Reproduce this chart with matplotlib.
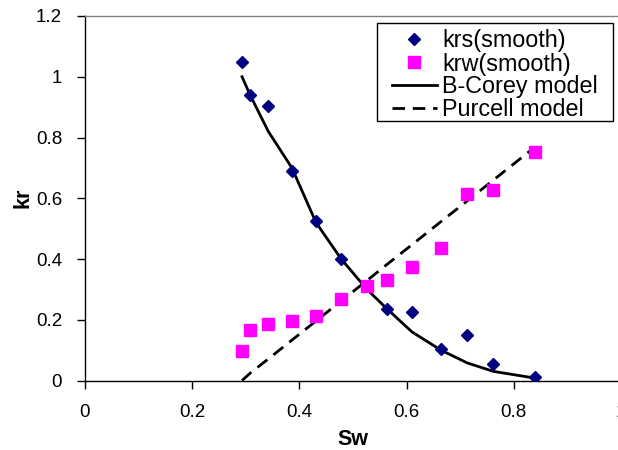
import matplotlib
matplotlib.use("Agg")
import matplotlib.pyplot as plt
from matplotlib.lines import Line2D
from matplotlib.patches import Rectangle

plt.rcParams['font.family'] = ['Liberation Sans', 'DejaVu Sans']

# Measured data
sw_krs = [0.293, 0.308, 0.342, 0.386, 0.431, 0.478, 0.564, 0.610, 0.664, 0.713, 0.762, 0.839]
krs = [1.05, 0.94, 0.905, 0.69, 0.525, 0.40, 0.235, 0.225, 0.105, 0.15, 0.055, 0.01]

sw_krw = [0.293, 0.308, 0.342, 0.386, 0.431, 0.478, 0.526, 0.564, 0.610, 0.664, 0.713, 0.762, 0.839]
krw = [0.097, 0.167, 0.187, 0.195, 0.211, 0.268, 0.31, 0.33, 0.375, 0.435, 0.615, 0.627, 0.751]

sw_model = [0.293, 0.308, 0.342, 0.386, 0.431, 0.478, 0.526, 0.564, 0.610, 0.664, 0.713, 0.762, 0.839]
corey = [1.0, 0.94, 0.82, 0.70, 0.52, 0.40, 0.30, 0.235, 0.16, 0.10, 0.058, 0.03, 0.008]
purcell = [0.0, 0.024, 0.071, 0.133, 0.196, 0.262, 0.329, 0.383, 0.447, 0.523, 0.591, 0.66, 0.768]

x_ticks = [0, 0.2, 0.4, 0.6, 0.8, 1]
x_ticklabels = ['0', '0.2', '0.4', '0.6', '0.8', '1']
y_ticks = [0, 0.2, 0.4, 0.6, 0.8, 1, 1.2]
y_ticklabels = ['0', '0.2', '0.4', '0.6', '0.8', '1', '1.2']

W, H = 618, 450
fig = plt.figure(figsize=(W / 100, H / 100), dpi=100)
ax = fig.add_axes([85 / W, 1 - 380.5 / H, 536 / W, 364.5 / H])

ax.plot(sw_model, corey, color='black', lw=2.0, solid_joinstyle='miter', zorder=2)
ax.plot(sw_model, purcell, color='black', lw=2.0, dashes=(4.5, 2.8), zorder=2)
ax.plot(sw_krs, krs, linestyle='none', marker='D', ms=6.2, color='#000080',
        markeredgecolor='#000080', zorder=3)
ax.plot(sw_krw, krw, linestyle='none', marker='s', ms=8.3, color='#FF00FF',
        markeredgecolor='#FF00FF', zorder=4)

ax.set_xlim(0, 1)
ax.set_ylim(0, 1.2)
ax.set_xticks(x_ticks)
ax.set_xticklabels(x_ticklabels)
ax.set_yticks(y_ticks)
ax.set_yticklabels(y_ticklabels)
ax.tick_params(axis='both', direction='out', length=6, width=1, labelsize=13.5,
               colors='black')
ax.tick_params(axis='x', pad=11)
ax.tick_params(axis='y', pad=10.5)

for s in ['left', 'bottom']:
    ax.spines[s].set_color('black')
    ax.spines[s].set_linewidth(1.0)
ax.spines['top'].set_color('#808080')
ax.spines['top'].set_linewidth(1.0)
ax.spines['right'].set_visible(False)

ax.set_xlabel('Sw', fontsize=15.5, fontweight='bold', labelpad=6)
ax.set_ylabel('kr', fontsize=15.5, fontweight='bold', labelpad=2)

handles = [
    Line2D([], [], linestyle='none', marker='D', ms=6.2, color='#000080'),
    Line2D([], [], linestyle='none', marker='s', ms=8.3, color='#FF00FF'),
    Line2D([], [], color='black', lw=2.0),
    Line2D([], [], color='black', lw=2.0, dashes=(4.5, 2.8)),
]
labels = ['krs(smooth)', 'krw(smooth)', 'B-Corey model', 'Purcell model']
leg = fig.legend(handles, labels, loc='upper left',
                 bbox_to_anchor=(391.6 / W, 1 - 29.5 / H),
                 fontsize=16.8, frameon=False,
                 borderpad=0.0, labelspacing=0.0, handlelength=1.95,
                 handletextpad=0.22, borderaxespad=0)

# legend box
fig.patches.append(Rectangle((377 / W, 1 - 121 / H), (613 - 377) / W, (121 - 23) / H,
                             transform=fig.transFigure, facecolor='white',
                             edgecolor='black', linewidth=1.0, zorder=0.5))

fig.savefig('out.png', dpi=100)
